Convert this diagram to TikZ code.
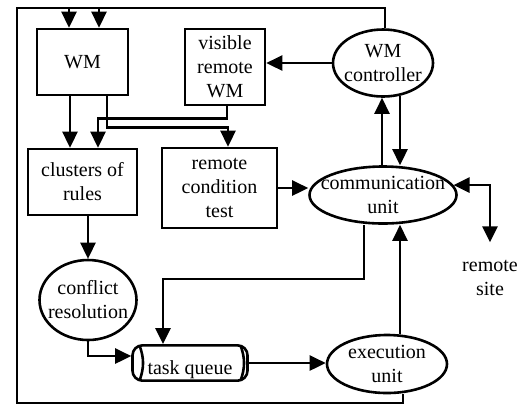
\documentclass[tikz,border=0pt]{standalone}
\usepackage{fontspec}
\setmainfont{Liberation Serif}
\usetikzlibrary{shapes.geometric,arrows.meta}

\begin{document}
\begin{tikzpicture}
[x=0.5pt,y=-0.5pt,line width=1.3pt,
  >={Triangle[length=8pt,width=7.5pt]},%
  boxdecorate/.style={shape=rectangle,draw,align=center,inner sep=1pt},%
  ovaldecorate/.style={shape=ellipse,draw,inner sep=0pt},%
  queuedecorate/.style={shape=rectangle,draw,rounded corners=5pt,
    minimum width=57.5pt,minimum height=17pt,text height=11pt,text depth=0pt,
    path picture={
      \draw[sharp corners] ([xshift=3.5pt]path picture bounding box.north west)
        to[bend left=20] ([xshift=3.5pt]path picture bounding box.south west);
      \draw[sharp corners] ([xshift=-3.5pt]path picture bounding box.north east)
        to[bend left=20] ([xshift=-3.5pt]path picture bounding box.south east);}}]
\useasboundingbox (0,0) rectangle (519,409);
%% boxes
\foreach \nodename/\x/\y/\w/\h/\nodetext in {wm/82.5/62/45.5/33/{WM},
    vis/225/67/40/38/{visible\\remote\\WM},
    clusters/82.5/182/54.5/33/{clusters of\\rules},
    rct/219.5/188/57.5/40/{remote\\condition\\test}} {
  \node (\nodename) at (\x,\y) [boxdecorate,minimum width=\w pt,minimum height=\h pt] {\nodetext};
}
%% ovals
\foreach \nodename/\x/\y/\w/\h/\nodetext in {ctrl/383/63/50/33.5/{WM\\controller},
    comm/383/195/73.5/28.5/{communication\\unit},
    cr/88/300/48.5/40/{conflict\\resolution},
    exec/387/364/60/29/{execution\\unit}} {
  \node (\nodename) at (\x,\y) [ovaldecorate,minimum width=\w pt,minimum height=\h pt,
    label={[align=center]center:\nodetext}] {};
}
\node (tq) at (190,363) [queuedecorate] {task queue};
\node (remote) at (490,278) [align=center] {remote\\site};
\coordinate (bl) at (17,403);
\coordinate (tl) at (17,8);
\coordinate (wmin1) at ([xshift=-6.75pt]wm.north);
\coordinate (wmin2) at ([xshift=8.25pt]wm.north);
%% connectors
\draw[->] ([xshift=-6.25pt]wm.south) -- ([xshift=-6.25pt]clusters.north);
\draw[->] ([xshift=12.25pt]wm.south) -- ++(0,31) -| ([xshift=4.25pt]rct.north);
\draw[->] ([xshift=1pt]vis.south) -- ++(0,12) -| ([xshift=7.75pt]clusters.north);
\draw[->] (ctrl.west) -- (ctrl.west -| vis.east);
\draw[->] ([xshift=-0.5pt]comm.north) -- ([xshift=-0.5pt]ctrl.south);
\draw[->] ([xshift=8.5pt,yshift=1pt]ctrl.south) -- ([xshift=8.5pt]comm.north);
\draw[->] (rct.east) -- (rct.east -| comm.west);
\draw[<->,shorten >=5pt] (comm.8) -| (remote.north);
\draw[->] ([xshift=-9.5pt]comm.south) -- ++(0,54) -| ([xshift=-13.5pt]tq.north);
\draw[->] ([xshift=6.5pt]exec.north) -- ([xshift=8.5pt]comm.south);
\draw[->] (tq.east) -- (tq.east -| exec.west);
\draw[->] ([xshift=2.75pt]clusters.south) -- (cr.north);
\draw[->] (cr.south) |- ([yshift=3.5pt]tq.west);
%% feedback loop to WM
\draw[->] ([xshift=8pt]exec.south) |- (bl) -- (tl) -| (wmin1);
\draw ([xshift=1pt]ctrl.north) |- (wmin1 |- tl);
\draw[->] (wmin2 |- tl) -- (wmin2);
\end{tikzpicture}
\end{document}
